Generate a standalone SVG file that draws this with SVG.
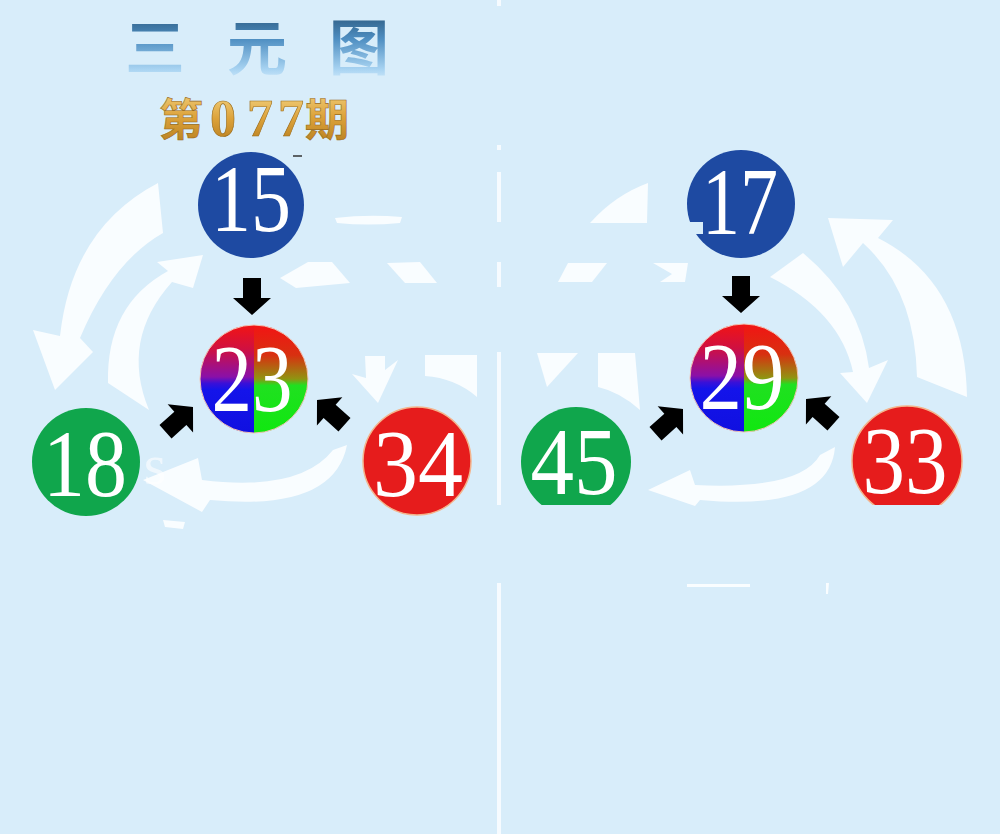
<svg xmlns="http://www.w3.org/2000/svg" width="1000" height="834" viewBox="0 0 1000 834">
<style>
.num{font-family:"Liberation Serif","DejaVu Serif",serif;font-size:95px;fill:#ffffff;text-anchor:middle}
.swirl{fill:#ffffff;opacity:0.85}
.div{fill:#f6fbff}
.arr{fill:#000000}
.title{font-family:"Noto Sans CJK SC",sans-serif;font-weight:bold;font-size:60px;fill:url(#gTitle);text-anchor:middle}
.issue{font-weight:bold;fill:url(#gGold);stroke:#9a6a18;stroke-width:0.6;text-anchor:middle}
</style>
<defs>
<linearGradient id="gTitle" x1="0" y1="0" x2="0" y2="1">
<stop offset="0" stop-color="#1a3f5e"/>
<stop offset="0.45" stop-color="#4f8fc2"/>
<stop offset="0.8" stop-color="#a9d4f2"/>
<stop offset="1" stop-color="#e8f6ff"/>
</linearGradient>
<linearGradient id="gGold" x1="0" y1="0" x2="0" y2="1">
<stop offset="0" stop-color="#f6d98a"/>
<stop offset="0.5" stop-color="#dca23a"/>
<stop offset="1" stop-color="#b27a1c"/>
</linearGradient>
<linearGradient id="gLeft" x1="0" y1="0" x2="0" y2="1">
<stop offset="0" stop-color="#f21414"/>
<stop offset="0.22" stop-color="#d01040"/>
<stop offset="0.48" stop-color="#8a10a8"/>
<stop offset="0.54" stop-color="#3a10d8"/>
<stop offset="0.6" stop-color="#1414ea"/>
<stop offset="1" stop-color="#1010e0"/>
</linearGradient>
<linearGradient id="gRight" x1="0" y1="0" x2="0" y2="1">
<stop offset="0" stop-color="#f21414"/>
<stop offset="0.28" stop-color="#d83010"/>
<stop offset="0.5" stop-color="#909412"/>
<stop offset="0.56" stop-color="#20e020"/>
<stop offset="1" stop-color="#10e810"/>
</linearGradient>
<clipPath id="clipBottom"><rect x="500" y="0" width="500" height="505"/></clipPath>
<path id="arrowDown" d="M-9,-37 L9,-37 L9,-17 L19,-17 L0,0 L-19,-17 L-9,-17 Z"/>
</defs>

<rect x="0" y="0" width="1000" height="834" fill="#d8edfa"/>

<g id="divider">
<rect class="div" x="497" y="0" width="4" height="6"/>
<rect class="div" x="497" y="145" width="4" height="5"/>
<rect class="div" x="497" y="172" width="4" height="50"/>
<rect class="div" x="497" y="262" width="4" height="25"/>
<rect class="div" x="497" y="352" width="4" height="153"/>
<rect class="div" x="497" y="583" width="4" height="251"/>
</g>

<g id="title">
<text class="title" x="155" y="70">三</text>
<text class="title" x="257" y="70">元</text>
<text class="title" x="359" y="70">图</text>
</g>
<g id="issue">
<text class="issue" x="181" y="136" font-family="Noto Sans CJK SC,sans-serif" font-size="44">第</text>
<text class="issue" x="223 260 291" y="136" font-family="Liberation Serif,serif" font-size="52">077</text>
<text class="issue" x="327" y="136" font-family="Noto Sans CJK SC,sans-serif" font-size="44">期</text>
</g>

<g id="swirls">
<path class="swirl" d="M158,183 L163,233 Q112,262 80,338 L93,352 L55,390 L33,330 L60,336 Q72,228 158,183 Z"/>
<path class="swirl" d="M149,410 Q120,340 172,282 L193,288 L203,255 L157,262 L168,271 Q106,305 108,383 Z"/>
<path class="swirl" d="M347,445 Q334,512 210,500 L202,512 L143,480 L198,458 L202,480 Q300,492 333,450 Z"/>
<path class="swirl" d="M335,218 Q368,214 402,217 L400,223 Q368,226 337,223 Z"/>
<path class="swirl" d="M280,278 L308,262 L332,262 L350,283 L296,288 Z"/>
<path class="swirl" d="M387,263 L420,262 L437,283 L405,283 Z"/>
<path class="swirl" d="M365,356 L385,356 L385,370 L398,360 L378,403 L352,374 L366,378 Z"/>
<path class="swirl" d="M425,355 L477,355 L477,397 Q455,378 425,376 Z"/>
<text x="155" y="484" font-family="Liberation Serif,serif" font-size="58" fill="#ffffff" opacity="0.6" text-anchor="middle">s</text>
<path class="swirl" d="M163,520 L185,522 L183,529 L165,527 Z" opacity="0.5"/>
<path class="swirl" d="M863,243 Q915,290 917,377 L967,397 Q965,282 878,238 L893,220 L828,218 L843,267 Z"/>
<path class="swirl" d="M770,277 L803,253 Q860,300 869,368 L888,360 L867,403 L840,373 L853,372 Q840,312 770,277 Z"/>
<path class="swirl" d="M835,447 Q830,512 700,500 L695,506 L648,490 L690,470 L695,485 Q800,490 820,455 Z"/>
<path class="swirl" d="M590,223 Q615,195 648,183 L647,223 Z"/>
<path class="swirl" d="M558,282 L568,263 L607,263 L592,282 Z"/>
<path class="swirl" d="M653,263 L688,263 L685,282 L660,282 L672,274 Z"/>
<path class="swirl" d="M537,353 L578,353 L547,387 Z"/>
<path class="swirl" d="M598,353 L635,353 L640,410 Q620,392 598,387 Z"/>
<path class="swirl" d="M687,584 L750,584 L750,587 L687,587 Z" opacity="0.6"/>
<path class="swirl" d="M826,583 L829,583 L828,594 L826,594 Z" opacity="0.6"/>
</g>

<g id="connectors">
<use href="#arrowDown" class="arr" transform="translate(252,315)"/>
<use href="#arrowDown" class="arr" transform="translate(193,407) rotate(-132)"/>
<use href="#arrowDown" class="arr" transform="translate(317,400) rotate(132)"/>
<use href="#arrowDown" class="arr" transform="translate(741,313)"/>
<use href="#arrowDown" class="arr" transform="translate(683,409) rotate(-132)"/>
<use href="#arrowDown" class="arr" transform="translate(806,399) rotate(132)"/>
</g>

<g id="node-15">
<circle cx="251" cy="205" r="53" fill="#1e4aa2"/>
<text class="num" x="251" y="231" textLength="80" lengthAdjust="spacingAndGlyphs">15</text>
<line x1="293" y1="156" x2="302" y2="156" stroke="#333" stroke-width="1.5"/>
</g>
<g id="node-23">
<path d="M254,325 A54,54 0 0 0 254,433 Z" fill="url(#gLeft)"/>
<path d="M254,325 A54,54 0 0 1 254,433 Z" fill="url(#gRight)"/>
<circle cx="254" cy="379" r="54" fill="none" stroke="#f3c4b4" stroke-width="1"/>
<text class="num" x="252" y="411" textLength="81" lengthAdjust="spacingAndGlyphs">23</text>
</g>
<g id="node-18">
<circle cx="86" cy="462" r="54" fill="#10a64c"/>
<text class="num" x="85" y="496" textLength="84" lengthAdjust="spacingAndGlyphs">18</text>
</g>
<g id="node-34">
<circle cx="417" cy="461" r="54" fill="#e61c1c" stroke="#f4b48c" stroke-width="1.5"/>
<text class="num" x="418" y="496" textLength="90" lengthAdjust="spacingAndGlyphs">34</text>
</g>

<g id="node-17">
<circle cx="741" cy="204" r="54" fill="#1e4aa2"/>
<rect x="685" y="222" width="18" height="12" fill="#d8edfa"/>
<text class="num" x="740" y="234" textLength="76" lengthAdjust="spacingAndGlyphs">17</text>
</g>
<g id="node-29">
<path d="M744,324 A54,54 0 0 0 744,432 Z" fill="url(#gLeft)"/>
<path d="M744,324 A54,54 0 0 1 744,432 Z" fill="url(#gRight)"/>
<circle cx="744" cy="378" r="54" fill="none" stroke="#f3c4b4" stroke-width="1"/>
<text class="num" x="742" y="409" textLength="85" lengthAdjust="spacingAndGlyphs">29</text>
</g>
<g id="node-45" clip-path="url(#clipBottom)">
<circle cx="576" cy="462" r="55" fill="#10a64c"/>
<text class="num" x="574" y="494" textLength="87" lengthAdjust="spacingAndGlyphs">45</text>
</g>
<g id="node-33" clip-path="url(#clipBottom)">
<circle cx="907" cy="461" r="55" fill="#e61c1c" stroke="#f4b48c" stroke-width="1.5"/>
<text class="num" x="905" y="493" textLength="85" lengthAdjust="spacingAndGlyphs">33</text>
</g>
</svg>
